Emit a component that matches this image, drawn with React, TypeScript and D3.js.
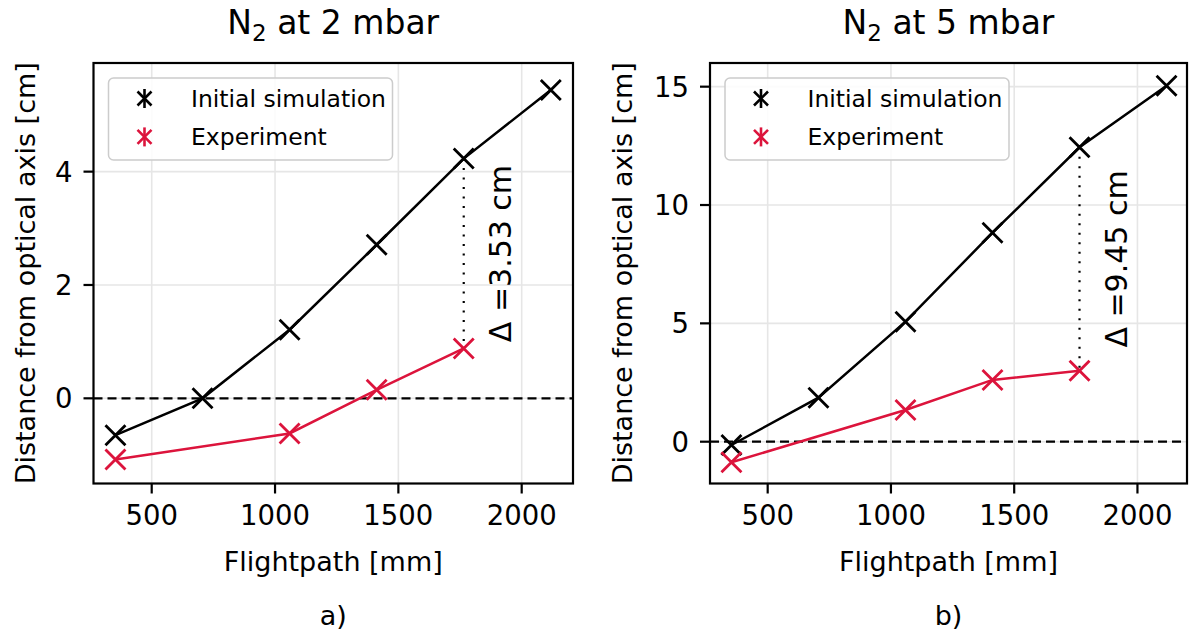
import React from "react";
import * as d3 from "d3";

// flight path positions [mm]
const flightpath = [353, 706, 1059, 1412, 1765, 2118];
const expFlightpath = [353, 1059, 1412, 1765];

// distance from optical axis [cm]
const sim2 = [-0.65, 0.0, 1.21, 2.71, 4.23, 5.44];
const exp2 = [-1.08, -0.62, 0.15, 0.88];
const sim5 = [-0.14, 1.86, 5.07, 8.83, 12.44, 15.04];
const exp5 = [-0.87, 1.34, 2.61, 3.0];

const xTicks = [500, 1000, 1500, 2000];
const yTicks2 = [0, 2, 4];
const yTicks5 = [0, 5, 10, 15];

const deltaAt = 1765;
const seriesNames = ["Initial simulation", "Experiment"];
const RED = "#dc143c";
const FONT = "DejaVu Sans";

const xMarker = (s) => `M${-s},${-s}L${s},${s}M${-s},${s}L${s},${-s}`;

const Panel = ({ box, xDomain, yDomain, sim, exp, yTicks, pressure, delta, letter, ylabelX }) => {
  const x = d3.scaleLinear().domain(xDomain).range([box.left, box.right]);
  const y = d3.scaleLinear().domain(yDomain).range([box.bottom, box.top]);
  const line = d3.line().x((d) => x(d[0])).y((d) => y(d[1]));
  const simPts = flightpath.map((f, i) => [f, sim[i]]);
  const expPts = expFlightpath.map((f, i) => [f, exp[i]]);
  const cx = (box.left + box.right) / 2;
  const cy = (box.top + box.bottom) / 2;
  const dTop = sim[flightpath.indexOf(deltaAt)];
  const dBot = exp[expFlightpath.indexOf(deltaAt)];
  const tx = x(deltaAt) + 47;
  const ty = y((dTop + dBot) / 2);

  return (
    <g fontFamily={FONT}>
      <defs>
        <clipPath id={`clip-${letter}`}>
          <rect x={box.left} y={box.top} width={box.right - box.left} height={box.bottom - box.top} />
        </clipPath>
      </defs>
      {/* grid */}
      {xTicks.map((t) => (
        <line key={"gx" + t} x1={x(t)} x2={x(t)} y1={box.top} y2={box.bottom} stroke="#e6e6e6" strokeWidth={1.6} />
      ))}
      {yTicks.map((t) => (
        <line key={"gy" + t} x1={box.left} x2={box.right} y1={y(t)} y2={y(t)} stroke="#e6e6e6" strokeWidth={1.6} />
      ))}
      <line x1={box.left} x2={box.right} y1={y(0)} y2={y(0)} stroke="black" strokeWidth={2.2} strokeDasharray="9,5" />

      <g clipPath={`url(#clip-${letter})`}>
        <path d={line(simPts)} fill="none" stroke="black" strokeWidth={2.5} />
        <path d={line(expPts)} fill="none" stroke={RED} strokeWidth={2.5} />
        {simPts.map((p, i) => (
          <g key={"s" + i} transform={`translate(${x(p[0])},${y(p[1])})`}>
            <path d={xMarker(10)} stroke="black" strokeWidth={2.8} />
          </g>
        ))}
        {expPts.map((p, i) => (
          <g key={"e" + i} transform={`translate(${x(p[0])},${y(p[1])})`}>
            <path d={xMarker(10)} stroke={RED} strokeWidth={2.8} />
          </g>
        ))}
      </g>

      {/* delta annotation */}
      <line x1={x(deltaAt)} x2={x(deltaAt)} y1={y(dTop)} y2={y(dBot)} stroke="black" strokeWidth={2.2} strokeDasharray="2,7.5" />
      <text transform={`translate(${tx},${ty}) rotate(-90)`} textAnchor="middle" fontSize={30} fill="black">
        {delta}
      </text>

      {/* spines */}
      <rect x={box.left} y={box.top} width={box.right - box.left} height={box.bottom - box.top} fill="none" stroke="black" strokeWidth={2.2} />

      {/* ticks */}
      {xTicks.map((t) => (
        <g key={"tx" + t}>
          <line x1={x(t)} x2={x(t)} y1={box.bottom} y2={box.bottom + 10} stroke="black" strokeWidth={2.2} />
          <text x={x(t)} y={box.bottom + 41.5} textAnchor="middle" fontSize={27.5}>{t}</text>
        </g>
      ))}
      {yTicks.map((t) => (
        <g key={"ty" + t}>
          <line x1={box.left - 10} x2={box.left} y1={y(t)} y2={y(t)} stroke="black" strokeWidth={2.2} />
          <text x={box.left - 21} y={y(t)} textAnchor="end" dominantBaseline="central" fontSize={27.5}>{t}</text>
        </g>
      ))}

      {/* labels */}
      <text x={cx} y={box.bottom + 87.5} textAnchor="middle" fontSize={27}>Flightpath [mm]</text>
      <text transform={`translate(${ylabelX},${cy}) rotate(-90)`} textAnchor="middle" fontSize={27}>
        Distance from optical axis [cm]
      </text>
      <text x={cx} y={34} textAnchor="middle" fontSize={33}>
        N<tspan dy={7} fontSize={23}>2</tspan><tspan dy={-7}> at {pressure} mbar</tspan>
      </text>
      <text x={cx} y={625} textAnchor="middle" fontSize={27}>{letter})</text>

      {/* legend */}
      <g transform={`translate(${box.left + 15},${box.top + 15})`}>
        <rect width={284} height={82} rx={5} fill="white" fillOpacity={0.85} stroke="#cccccc" strokeWidth={1.5} />
        {seriesNames.map((name, i) => (
          <g key={name} transform={`translate(0,${20.5 + i * 38.4})`}>
            <g transform="translate(36,0)" stroke={i === 0 ? "black" : RED} strokeWidth={2.6}>
              <path d={xMarker(7)} />
              <path d="M0,-9.5L0,9.5" />
            </g>
            <text x={82.5} y={0} dominantBaseline="central" fontSize={23.5}>{name}</text>
          </g>
        ))}
      </g>
    </g>
  );
};

export default function App() {
  return (
    <svg width={1193} height={641} style={{ position: "absolute", left: 0, top: 0, background: "white" }}>
      <rect width={1193} height={641} fill="white" />
      <Panel
        box={{ left: 93.5, right: 573, top: 63, bottom: 483.5 }}
        xDomain={[264, 2208]}
        yDomain={[-1.503, 5.917]}
        sim={sim2}
        exp={exp2}
        yTicks={yTicks2}
        pressure={2}
        delta="Δ =3.53 cm"
        letter="a"
        ylabelX={35}
      />
      <Panel
        box={{ left: 710, right: 1187, top: 63, bottom: 483.5 }}
        xDomain={[266, 2201]}
        yDomain={[-1.766, 16.0]}
        sim={sim5}
        exp={exp5}
        yTicks={yTicks5}
        pressure={5}
        delta="Δ =9.45 cm"
        letter="b"
        ylabelX={632}
      />
    </svg>
  );
}
